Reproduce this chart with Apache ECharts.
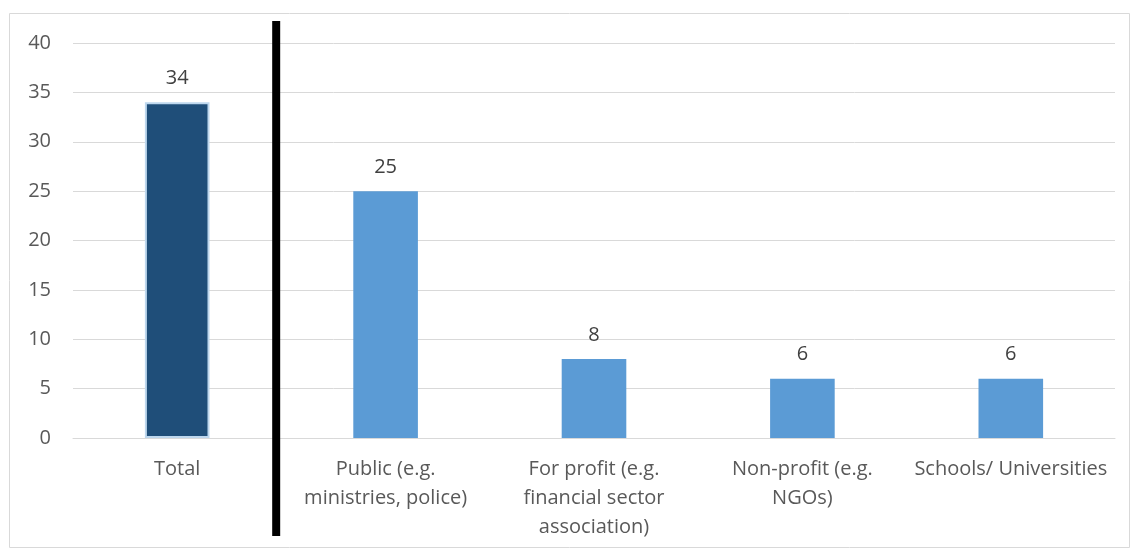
<!DOCTYPE html>
<html>
<head>
<meta charset="utf-8">
<script src="https://cdn.jsdelivr.net/npm/echarts@6/dist/echarts.min.js"></script>
<style>
  html, body { margin: 0; padding: 0; background: #fff; }
  #chart { width: 1133px; height: 552px; }
</style>
</head>
<body>
<div id="chart"></div>
<script>
// categories and counts
var categories = ['Total', 'Public (e.g.\nministries, police)', 'For profit (e.g.\nfinancial sector\nassociation)', 'Non-profit (e.g.\nNGOs)', 'Schools/ Universities'];
var counts = [34, 25, 8, 6, 6];
var yTicks = { min: 0, max: 40, interval: 5 };

var chart = echarts.init(document.getElementById('chart'));
var txt = '#595959';
var fontFam = '"Open Sans", "Liberation Sans", sans-serif';

var barData = counts.map(function (v, i) {
    if (i === 0) {
        return { value: v, itemStyle: { color: '#1F4E79', borderColor: '#BDD7EE', borderWidth: 2 } };
    }
    return { value: v, itemStyle: { color: '#5B9BD5' } };
});

var option = {
    animation: false,
    grid: { left: 73, right: 18, top: 43, bottom: 114 },
    xAxis: {
        type: 'category',
        data: categories,
        axisLine: { lineStyle: { color: '#d9d9d9' } },
        axisTick: { show: false },
        axisLabel: { color: txt, fontSize: 20, fontFamily: fontFam, lineHeight: 29, margin: 17, interval: 0 }
    },
    yAxis: {
        type: 'value',
        min: yTicks.min, max: yTicks.max, interval: yTicks.interval,
        axisLine: { show: false },
        axisTick: { show: false },
        axisLabel: { color: txt, fontSize: 20, fontFamily: fontFam, margin: 22 },
        splitLine: { lineStyle: { color: '#d9d9d9', width: 1 } }
    },
    series: [{
        type: 'bar',
        data: barData,
        barWidth: '31%',
        label: { show: true, position: 'top', distance: 14, color: '#404040', fontSize: 20, fontFamily: fontFam }
    }]
};
chart.setOption(option);

// outer frame and the black divider between Total and the sectors
var p0 = chart.convertToPixel({ xAxisIndex: 0 }, 0);
var p1 = chart.convertToPixel({ xAxisIndex: 0 }, 1);
var divX = p0 + 0.475 * (p1 - p0);
chart.setOption({
    graphic: [
        { type: 'rect', shape: { x: 9.5, y: 13.5, width: 1120, height: 534 }, style: { fill: 'none', stroke: '#d9d9d9', lineWidth: 1 }, silent: true },
        { type: 'line', shape: { x1: divX, y1: 21, x2: divX, y2: 536 }, style: { stroke: '#000', lineWidth: 8 }, z: 10 }
    ]
});
</script>
</body>
</html>
